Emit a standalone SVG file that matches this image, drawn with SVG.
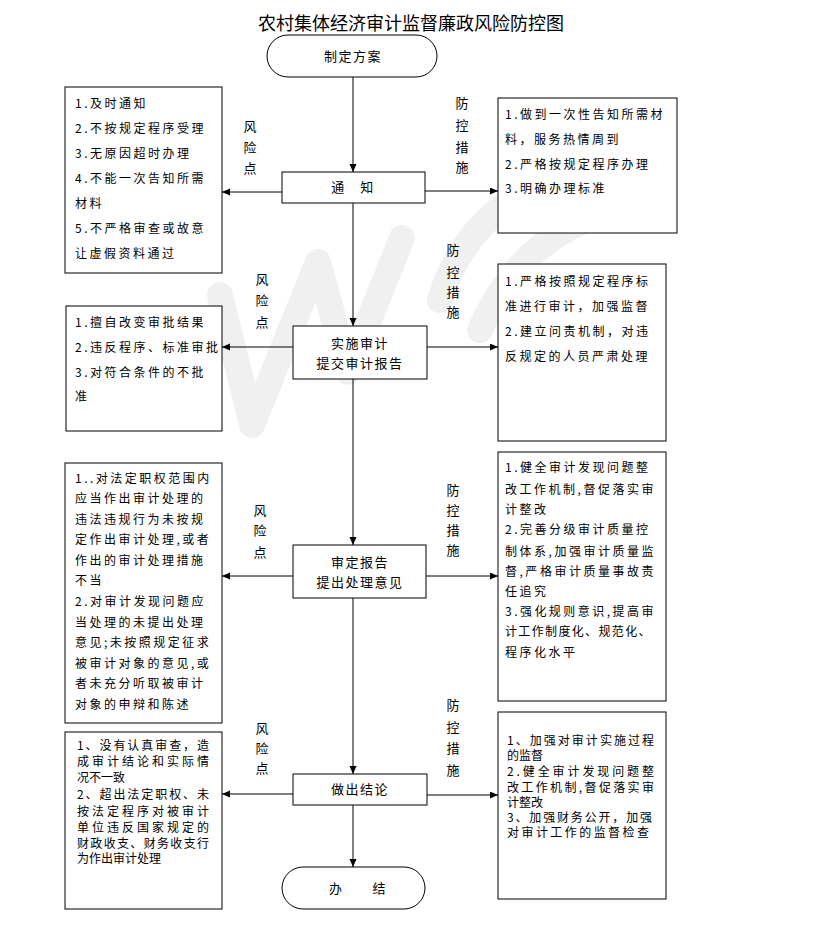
<svg xmlns="http://www.w3.org/2000/svg" width="823" height="926" viewBox="0 0 823 926">
<style>
text{font-family:"Noto Sans CJK SC","Liberation Sans",sans-serif;fill:#000}
.t{font-size:18px;text-anchor:middle}
.c{font-size:13px;text-anchor:middle;letter-spacing:1.5px}
.b{font-size:12px;letter-spacing:2.5px}
.s{font-size:12px}
.v{font-size:13px;text-anchor:middle}
.box{fill:#fff;stroke:#000;stroke-width:1}
.ln{fill:none;stroke:#000;stroke-width:1}
.wm{fill:none;stroke:#ececec;stroke-width:26;stroke-linejoin:round;stroke-linecap:round;opacity:0.8}
</style>
<defs>
<marker id="ah" markerUnits="userSpaceOnUse" markerWidth="9" markerHeight="8" refX="8" refY="3.5" orient="auto">
<path d="M0,0 L8,3.5 L0,7 z" fill="#000"/>
</marker>
</defs>
<rect width="823" height="926" fill="#fff"/>
<g id="watermark">
<path class="wm" d="M220,295 L252,425 L318,262 L348,372 L402,238"/>
<path class="wm" d="M440,300 Q470,200 580,170"/>
<path class="wm" d="M480,330 Q520,240 600,215"/>
</g>
<text class="t" x="411" y="30">农村集体经济审计监督廉政风险防控图</text>
<g id="connectors">
<line class="ln" x1="353" y1="77" x2="353" y2="172" marker-end="url(#ah)"/>
<line class="ln" x1="353" y1="203" x2="353" y2="326" marker-end="url(#ah)"/>
<line class="ln" x1="353" y1="379" x2="353" y2="545" marker-end="url(#ah)"/>
<line class="ln" x1="353" y1="598" x2="353" y2="774" marker-end="url(#ah)"/>
<line class="ln" x1="353" y1="805" x2="353" y2="867" marker-end="url(#ah)"/>
<line class="ln" x1="282" y1="192" x2="222" y2="192" marker-end="url(#ah)"/>
<line class="ln" x1="425" y1="191" x2="498" y2="191" marker-end="url(#ah)"/>
<line class="ln" x1="293" y1="347" x2="222" y2="347" marker-end="url(#ah)"/>
<line class="ln" x1="427" y1="347" x2="498" y2="347" marker-end="url(#ah)"/>
<line class="ln" x1="293" y1="576" x2="222" y2="576" marker-end="url(#ah)"/>
<line class="ln" x1="426" y1="576" x2="498" y2="576" marker-end="url(#ah)"/>
<line class="ln" x1="293" y1="794" x2="222" y2="794" marker-end="url(#ah)"/>
<line class="ln" x1="427" y1="795" x2="498" y2="795" marker-end="url(#ah)"/>
</g>
<g id="start">
<rect class="box" x="267" y="35" width="170" height="42" rx="21"/>
<text class="c" x="353" y="60.5">制定方案</text>
</g>
<g id="notify">
<rect class="box" x="282" y="172" width="143" height="31"/>
<text class="c" x="353" y="192">通　知</text>
</g>
<g id="implement">
<rect class="box" x="293" y="326" width="134" height="53"/>
<text class="c" x="360" y="347.5">实施审计</text>
<text class="c" x="360" y="367.5">提交审计报告</text>
</g>
<g id="review">
<rect class="box" x="293" y="545" width="133" height="53"/>
<text class="c" x="360" y="566.5">审定报告</text>
<text class="c" x="360" y="586.5">提出处理意见</text>
</g>
<g id="conclude">
<rect class="box" x="293" y="774" width="134" height="31"/>
<text class="c" x="360" y="793.5">做出结论</text>
</g>
<g id="end">
<rect class="box" x="282" y="867" width="143" height="42" rx="21"/>
<text class="c" x="358" y="893">办　　结</text>
</g>
<g id="risk1">
<rect class="box" x="65" y="87" width="157" height="186"/>
<text class="b" x="75" y="108">1.及时通知</text>
<text class="b" x="75" y="133">2.不按规定程序受理</text>
<text class="b" x="75" y="158">3.无原因超时办理</text>
<text class="b" x="75" y="183">4.不能一次告知所需</text>
<text class="b" x="75" y="208">材料</text>
<text class="b" x="75" y="233">5.不严格审查或故意</text>
<text class="b" x="75" y="258">让虚假资料通过</text>
</g>
<g id="risk1-label">
<text class="v" x="250" y="131">风</text>
<text class="v" x="250" y="152">险</text>
<text class="v" x="250" y="173">点</text>
</g>
<g id="ctrl1">
<rect class="box" x="498" y="98" width="179" height="135"/>
<text class="b" x="505" y="119">1.做到一次性告知所需材</text>
<text class="b" x="505" y="144">料，服务热情周到</text>
<text class="b" x="505" y="169">2.严格按规定程序办理</text>
<text class="b" x="505" y="193">3.明确办理标准</text>
</g>
<g id="ctrl1-label">
<text class="v" x="462" y="108">防</text>
<text class="v" x="462" y="130">控</text>
<text class="v" x="462" y="152">措</text>
<text class="v" x="462" y="172">施</text>
</g>
<g id="risk2">
<rect class="box" x="66" y="306" width="156" height="125"/>
<text class="b" x="75" y="327">1.擅自改变审批结果</text>
<text class="b" x="75" y="352">2.违反程序、标准审批</text>
<text class="b" x="75" y="377">3.对符合条件的不批</text>
<text class="b" x="75" y="401">准</text>
</g>
<g id="risk2-label">
<text class="v" x="262" y="284">风</text>
<text class="v" x="262" y="305">险</text>
<text class="v" x="262" y="327">点</text>
</g>
<g id="ctrl2">
<rect class="box" x="498" y="264" width="168" height="177"/>
<text class="b" x="505" y="286">1.严格按照规定程序标</text>
<text class="b" x="505" y="311">准进行审计，加强监督</text>
<text class="b" x="505" y="336">2.建立问责机制，对违</text>
<text class="b" x="505" y="361">反规定的人员严肃处理</text>
</g>
<g id="ctrl2-label">
<text class="v" x="453" y="255">防</text>
<text class="v" x="453" y="277">控</text>
<text class="v" x="453" y="297">措</text>
<text class="v" x="453" y="317">施</text>
</g>
<g id="risk3">
<rect class="box" x="65" y="463" width="157" height="260"/>
<text class="b" x="75" y="482.5">1..对法定职权范围内</text>
<text class="b" x="75" y="503">应当作出审计处理的</text>
<text class="b" x="75" y="524">违法违规行为未按规</text>
<text class="b" x="75" y="544">定作出审计处理,或者</text>
<text class="b" x="75" y="565">作出的审计处理措施</text>
<text class="b" x="75" y="585">不当</text>
<text class="b" x="75" y="606">2.对审计发现问题应</text>
<text class="b" x="75" y="627">当处理的未提出处理</text>
<text class="b" x="75" y="647">意见;未按照规定征求</text>
<text class="b" x="75" y="668">被审计对象的意见,或</text>
<text class="b" x="75" y="688">者未充分听取被审计</text>
<text class="b" x="75" y="709">对象的申辩和陈述</text>
</g>
<g id="risk3-label">
<text class="v" x="260" y="515">风</text>
<text class="v" x="260" y="535">险</text>
<text class="v" x="260" y="557">点</text>
</g>
<g id="ctrl3">
<rect class="box" x="498" y="452" width="168" height="249"/>
<text class="b" x="505" y="472">1.健全审计发现问题整</text>
<text class="b" x="505" y="494" textLength="151" lengthAdjust="spacing">改工作机制,督促落实审</text>
<text class="b" x="505" y="514">计整改</text>
<text class="b" x="505" y="534">2.完善分级审计质量控</text>
<text class="b" x="505" y="556" textLength="151" lengthAdjust="spacing">制体系,加强审计质量监</text>
<text class="b" x="505" y="576" textLength="151" lengthAdjust="spacing">督,严格审计质量事故责</text>
<text class="b" x="505" y="596">任追究</text>
<text class="b" x="505" y="616" textLength="151" lengthAdjust="spacing">3.强化规则意识,提高审</text>
<text class="b" x="505" y="636" textLength="148" lengthAdjust="spacing">计工作制度化、规范化、</text>
<text class="b" x="505" y="657">程序化水平</text>
</g>
<g id="ctrl3-label">
<text class="v" x="453" y="495">防</text>
<text class="v" x="453" y="515">控</text>
<text class="v" x="453" y="535">措</text>
<text class="v" x="453" y="555">施</text>
</g>
<g id="risk4">
<rect class="box" x="65" y="732" width="157" height="177"/>
<text class="s" x="77" y="749.5" textLength="132" lengthAdjust="spacing">1、没有认真审查，造</text>
<text class="s" x="77" y="766" textLength="132" lengthAdjust="spacing">成审计结论和实际情</text>
<text class="s" x="77" y="782">况不一致</text>
<text class="s" x="77" y="799" textLength="132" lengthAdjust="spacing">2、超出法定职权、未</text>
<text class="s" x="77" y="816" textLength="132" lengthAdjust="spacing">按法定程序对被审计</text>
<text class="s" x="77" y="832" textLength="132" lengthAdjust="spacing">单位违反国家规定的</text>
<text class="s" x="77" y="847.5" textLength="132" lengthAdjust="spacing">财政收支、财务收支行</text>
<text class="s" x="77" y="862.5">为作出审计处理</text>
</g>
<g id="risk4-label">
<text class="v" x="262" y="733">风</text>
<text class="v" x="262" y="753">险</text>
<text class="v" x="262" y="773">点</text>
</g>
<g id="ctrl4">
<rect class="box" x="498" y="712" width="168" height="187"/>
<text class="s" x="507" y="744.5" textLength="147" lengthAdjust="spacing">1、加强对审计实施过程</text>
<text class="s" x="507" y="759.5">的监督</text>
<text class="s" x="507" y="776" textLength="147" lengthAdjust="spacing">2.健全审计发现问题整</text>
<text class="s" x="507" y="791.5" textLength="147" lengthAdjust="spacing">改工作机制,督促落实审</text>
<text class="s" x="507" y="806.5">计整改</text>
<text class="s" x="507" y="821.5" textLength="145" lengthAdjust="spacing">3、加强财务公开，加强</text>
<text class="s" x="507" y="836.5" textLength="142" lengthAdjust="spacing">对审计工作的监督检查</text>
</g>
<g id="ctrl4-label">
<text class="v" x="453" y="710">防</text>
<text class="v" x="453" y="732">控</text>
<text class="v" x="453" y="753">措</text>
<text class="v" x="453" y="775">施</text>
</g>
</svg>
